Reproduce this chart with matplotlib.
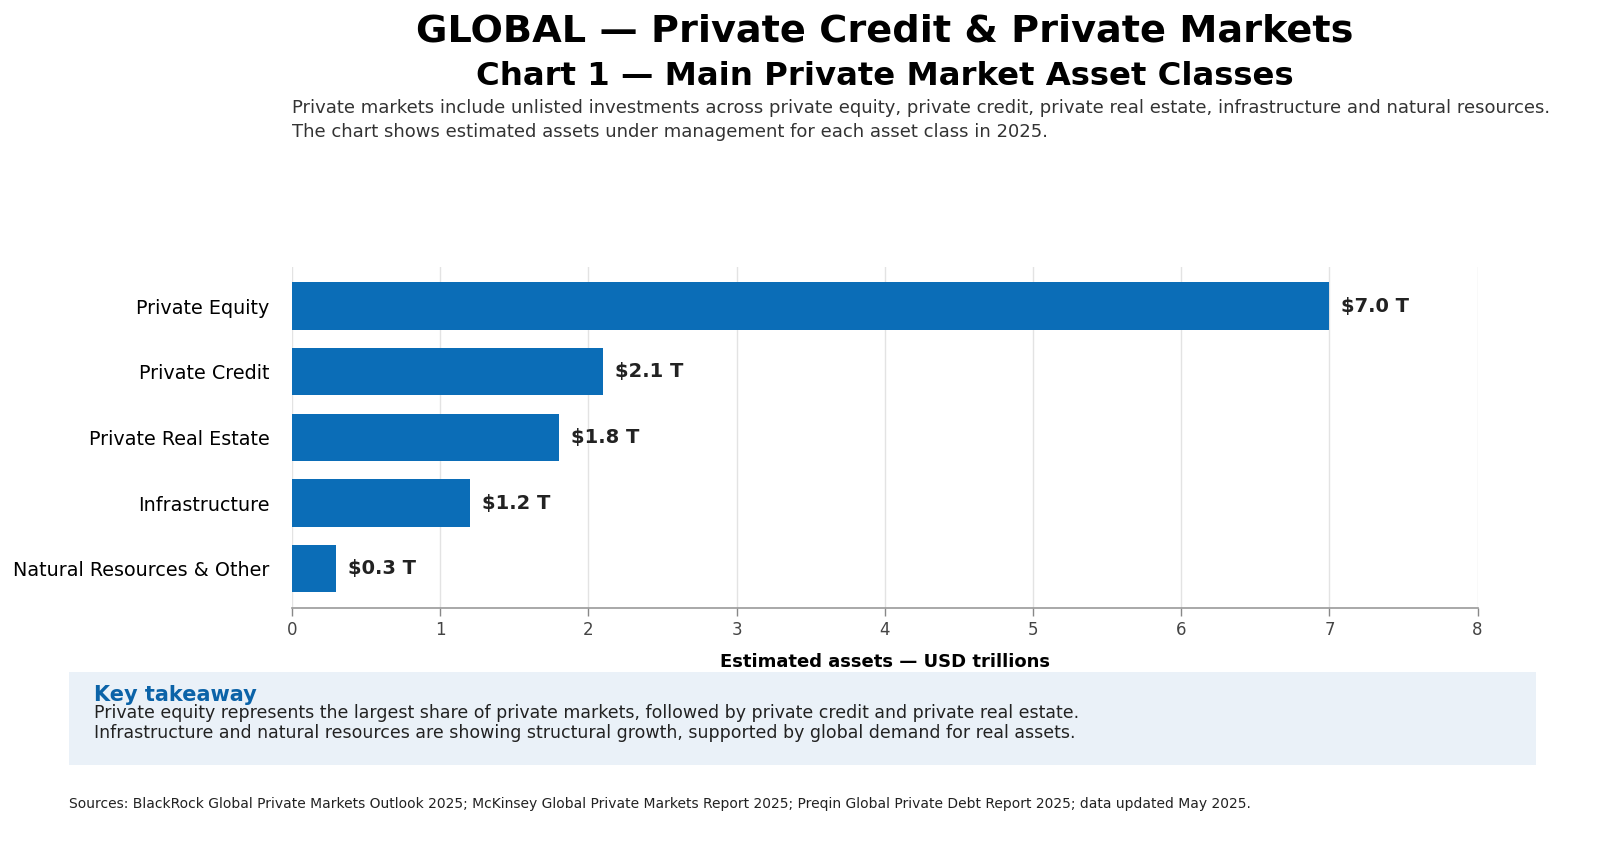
import matplotlib.pyplot as plt

categories = ['Private Equity', 'Private Credit', 'Private Real Estate',
              'Infrastructure', 'Natural Resources & Other']
aum = [7.0, 2.1, 1.8, 1.2, 0.3]
bar_labels = ['$7.0 T', '$2.1 T', '$1.8 T', '$1.2 T', '$0.3 T']

title = 'GLOBAL \u2014 Private Credit & Private Markets'
subtitle = 'Chart 1 \u2014 Main Private Market Asset Classes'
intro = ('Private markets include unlisted investments across private equity, private credit, '
         'private real estate, infrastructure and natural resources.\n'
         'The chart shows estimated assets under management for each asset class in 2025.')
takeaway = ('Private equity represents the largest share of private markets, followed by private '
            'credit and private real estate.\n'
            'Infrastructure and natural resources are showing structural growth, supported by '
            'global demand for real assets.')
sources = ('Sources: BlackRock Global Private Markets Outlook 2025; McKinsey Global Private Markets '
           'Report 2025; Preqin Global Private Debt Report 2025; data updated May 2025.')

blue = '#0b6db7'

fig = plt.figure(figsize=(16, 8.42), dpi=100)
ax = fig.add_axes([0.1825, 0.278, 0.741, 0.405])

ax.barh(categories, aum, height=0.72, color=blue, zorder=3)
ax.invert_yaxis()
ax.set_xlim(0, 8)

for i, (v, lab) in enumerate(zip(aum, bar_labels)):
    ax.text(v + 0.08, i, lab, va='center', ha='left', fontsize=14,
            fontweight='bold', color='#222222')

ax.grid(axis='x', color='#e3e3e3', linewidth=1, zorder=0)
ax.grid(axis='y', visible=False)
for s in ['top', 'right', 'left']:
    ax.spines[s].set_visible(False)
ax.spines['bottom'].set_color('#999999')
ax.spines['bottom'].set_linewidth(1.2)
ax.tick_params(axis='y', length=0, labelsize=13.8, pad=16)
ax.tick_params(axis='x', colors='#444444', labelsize=12, length=6, width=1)
ax.tick_params(axis='x', color='#888888')
ax.set_xlabel('Estimated assets \u2014 USD trillions', fontsize=13,
              fontweight='bold', labelpad=10)

# header
fig.text(0.553, 0.963, title, ha='center', va='center', fontsize=27.5, fontweight='bold')
fig.text(0.553, 0.909, subtitle, ha='center', va='center', fontsize=23.3, fontweight='bold')
fig.text(0.1825, 0.883, intro, ha='left', va='top', fontsize=13, color='#333333',
         linespacing=1.45)

# takeaway box
box = plt.Rectangle((0.043, 0.091), 0.917, 0.111, transform=fig.transFigure,
                    facecolor='#eaf1f8', edgecolor='none', zorder=0)
fig.patches.append(box)
fig.text(0.059, 0.174, 'Key takeaway', ha='left', va='center', fontsize=15,
         fontweight='bold', color='#0b63a8')
fig.text(0.059, 0.164, takeaway, ha='left', va='top', fontsize=12.5, color='#222222',
         linespacing=1.12)

fig.text(0.043, 0.045, sources, ha='left', va='center', fontsize=10, color='#222222')

fig.savefig('out.png', dpi=100)
